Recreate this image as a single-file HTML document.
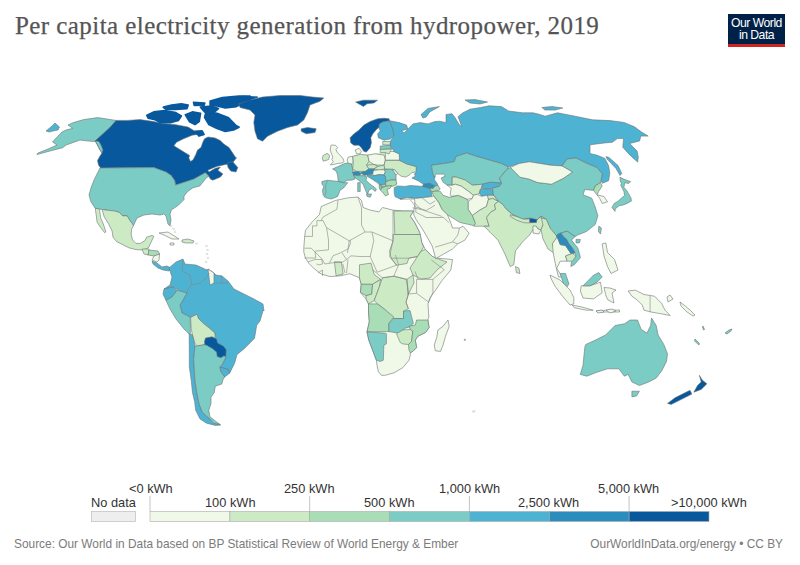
<!DOCTYPE html>
<html><head><meta charset="utf-8">
<style>
html,body{margin:0;padding:0;background:#fff;}
body{width:800px;height:565px;position:relative;overflow:hidden;font-family:"Liberation Sans",sans-serif;}
.title{position:absolute;left:15px;top:12px;font-family:"Liberation Serif",serif;font-size:25px;color:#555;white-space:nowrap;letter-spacing:0.43px;-webkit-text-stroke:0.25px #555;}
.logo{position:absolute;left:728px;top:14px;width:57px;height:33px;background:#002147;}
.logo .bar{position:absolute;left:0;bottom:0;width:57px;height:3px;background:#ce261e;}
.logo .t{position:absolute;left:0;top:3px;width:57px;text-align:center;color:#fff;font-size:12.2px;line-height:12px;letter-spacing:-0.5px;}
.lab{position:absolute;font-size:12.8px;color:#333;white-space:nowrap;}
.foot{position:absolute;top:537px;font-size:11.88px;color:#7b7b7b;white-space:nowrap;}
svg{position:absolute;left:0;top:0;}
</style></head><body>
<div class="title">Per capita electricity generation from hydropower, 2019</div>
<div class="logo"><div class="t">Our World<br>in Data</div><div class="bar"></div></div>
<svg width="800" height="565" style="position:absolute;left:0;top:0">
<g stroke="#6c7476" stroke-linejoin="round">
<path d="M73.3,122.6 L84.0,119.5 L97.8,117.6 L116.1,120.4 L110.0,127.4 L95.3,140.8 L98.0,143.5 L95.0,141.5 L88.0,141.0 L80.0,140.0 L72.7,142.7 L66.0,145.0 L62.7,147.7 L50.0,151.0 L36.9,154.6 L38.0,153.0 L48.0,149.0 L57.0,145.0 L52.6,142.0 L57.6,136.4 L62.0,132.0 L66.0,130.0 L72.7,128.3 L68.0,125.0Z" fill="#7bccc4" stroke-width="0.6"/>
<path d="M46.0,131.0 L52.0,126.0 L55.0,123.0 L59.5,127.0 L58.0,130.0 L53.0,131.0 L49.0,132.0Z" fill="#4eb3d3" stroke-width="0.6"/>
<path d="M116.1,120.4 L127.5,120.4 L140.0,119.6 L153.8,121.6 L162.5,123.6 L174.4,124.4 L188.1,127.1 L195.0,131.3 L197.5,134.4 L192.2,135.2 L183.5,138.8 L176.5,142.2 L173.9,145.8 L178.2,148.4 L185.2,152.8 L189.6,155.4 L188.8,158.0 L190.5,161.5 L193.1,159.8 L195.8,154.5 L197.5,150.1 L201.0,147.5 L202.8,142.2 L204.5,138.8 L208.0,137.0 L215.0,137.9 L220.2,140.5 L223.8,144.0 L229.0,147.5 L232.5,152.8 L236.0,158.0 L236.7,157.6 L231.7,163.9 L225.4,164.5 L216.6,166.4 L207.8,170.2 L209.0,172.0 L215.3,168.3 L220.4,167.0 L217.8,170.2 L222.9,173.9 L220.4,177.1 L212.8,180.2 L210.3,178.9 L209.0,176.4 L207.8,175.2 L205.3,172.7 L194.0,179.0 L183.5,182.5 L175.6,185.1 L174.8,180.8 L171.2,175.5 L166.0,172.0 L159.0,169.4 L153.8,167.6 L100.6,168.0 L98.5,165.0 L97.5,160.6 L100.0,156.0 L102.0,153.0 L99.5,149.0 L97.5,145.0 L95.3,140.8 L110.0,127.4Z" fill="#08589e" stroke-width="0.6"/>
<path d="M95.3,140.8 L99.0,141.5 L101.0,145.0 L103.0,150.0 L102.0,153.0 L99.5,149.0 L97.5,145.0Z" fill="#7bccc4" stroke-width="0.6"/>
<path d="M227.2,163.2 L232.5,161.5 L237.8,167.6 L236.0,172.0 L230.8,171.1 L228.1,167.6Z" fill="#08589e" stroke-width="0.6"/>
<path d="M206.0,112.0 L217.0,113.4 L228.0,117.5 L236.3,125.8 L239.0,127.1 L233.5,129.9 L225.3,131.3 L217.0,128.5 L208.8,124.4 L204.7,117.5Z" fill="#08589e" stroke-width="1.8" stroke="#08589e"/>
<path d="M185.4,114.8 L192.3,112.0 L200.5,113.4 L199.1,121.6 L195.0,124.4 L189.5,121.6Z" fill="#08589e" stroke-width="1.8" stroke="#08589e"/>
<path d="M195.0,131.5 L202.0,131.0 L204.0,134.5 L199.0,136.0Z" fill="#08589e" stroke-width="1.8" stroke="#08589e"/>
<path d="M146.9,115.4 L153.8,112.0 L164.8,110.6 L175.8,112.7 L181.3,116.1 L178.5,120.3 L170.3,122.6 L160.6,122.6 L155.1,119.6 L148.2,118.2Z" fill="#08589e" stroke-width="1.8" stroke="#08589e"/>
<path d="M163.4,107.2 L171.6,105.1 L181.3,103.8 L188.1,105.1 L186.8,108.6 L175.8,109.3 L166.1,109.3Z" fill="#08589e" stroke-width="1.8" stroke="#08589e"/>
<path d="M193.6,102.4 L204.7,103.1 L204.0,105.1 L194.3,105.4Z" fill="#08589e" stroke-width="1.8" stroke="#08589e"/>
<path d="M200.5,107.2 L211.5,106.2 L218.4,108.6 L214.3,112.0 L204.7,112.0Z" fill="#08589e" stroke-width="1.8" stroke="#08589e"/>
<path d="M210.2,101.0 L222.5,97.6 L239.0,96.2 L250.0,96.2 L250.0,100.3 L241.8,103.8 L236.3,106.5 L225.3,107.9 L217.0,105.8 L210.2,105.1Z" fill="#08589e" stroke-width="1.8" stroke="#08589e"/>
<path d="M238.8,103.8 L250.0,100.0 L262.5,97.0 L280.0,95.5 L300.0,95.5 L312.5,97.0 L323.8,98.0 L320.0,101.2 L310.0,105.0 L307.5,112.5 L303.8,120.0 L297.5,125.0 L287.5,127.5 L277.5,131.2 L267.5,136.2 L262.5,141.2 L257.5,138.8 L255.0,131.2 L253.8,122.5 L255.0,115.0 L250.0,110.0 L240.0,107.5Z" fill="#08589e" stroke-width="0.6"/>
<path d="M301.2,128.8 L307.5,127.5 L316.2,128.8 L315.0,132.5 L306.2,133.8 L301.2,131.2Z" fill="#08589e" stroke-width="0.6"/>
<path d="M102.5,168.0 L153.8,167.6 L159.0,169.4 L166.0,172.0 L171.2,175.5 L174.8,180.8 L175.6,185.1 L183.5,182.5 L194.0,179.0 L205.3,172.7 L207.8,175.2 L209.0,176.4 L206.6,177.5 L203.0,182.0 L199.8,186.0 L193.0,187.7 L187.4,191.7 L184.0,196.2 L184.0,199.6 L178.3,205.3 L171.5,209.8 L170.0,214.0 L171.0,220.0 L170.0,226.0 L168.0,224.0 L166.0,216.0 L164.0,214.0 L160.0,215.0 L152.0,214.0 L144.0,215.0 L137.0,218.0 L133.4,225.7 L129.8,220.4 L127.2,215.9 L122.7,215.9 L119.2,212.4 L114.8,211.1 L103.3,209.7 L95.3,208.4 L91.0,202.0 L89.0,195.0 L91.0,188.0 L94.0,180.0 L97.0,174.0 L100.0,168.0Z" fill="#7bccc4" stroke-width="0.6"/>
<path d="M102.4,209.5 L103.3,209.7 L114.8,211.1 L119.2,212.4 L122.7,215.9 L127.2,215.9 L129.8,220.4 L132.5,223.9 L133.4,225.7 L131.6,229.2 L131.2,234.5 L132.5,239.8 L136.0,243.4 L140.4,243.4 L144.9,240.7 L146.6,237.2 L152.0,235.4 L153.7,236.3 L151.0,242.5 L148.4,247.8 L143.1,250.0 L136.0,249.6 L128.9,247.8 L121.9,244.2 L116.5,241.6 L113.0,237.2 L112.1,231.0 L108.6,223.9 L104.2,216.8 L102.4,210.6Z" fill="#ccebc5" stroke-width="0.6"/>
<path d="M95.3,208.4 L99.0,208.8 L99.7,210.6 L100.6,217.7 L103.3,223.9 L105.0,229.2 L105.9,231.9 L104.6,232.7 L100.6,227.4 L97.1,222.1 L96.2,215.0 L95.5,210.6Z" fill="#ccebc5" stroke-width="0.6"/>
<path d="M142.0,249.0 L149.0,249.0 L149.0,250.0 L148.0,255.0 L144.0,254.0Z" fill="#ccebc5" stroke-width="0.6"/>
<path d="M149.0,250.0 L158.0,251.0 L159.6,254.0 L154.0,256.0 L148.0,255.0Z" fill="#a8ddb5" stroke-width="0.6"/>
<path d="M154.0,256.0 L159.6,254.0 L159.0,260.0 L157.0,262.0 L152.0,260.0Z" fill="#f0f9e8" stroke-width="0.6"/>
<path d="M152.0,261.0 L157.0,263.0 L162.0,267.0 L167.0,266.0 L171.0,268.0 L169.0,271.0 L163.0,270.0 L158.0,268.0 L153.0,264.0Z" fill="#4eb3d3" stroke-width="0.6"/>
<path d="M159.0,233.0 L168.0,232.0 L176.0,237.0 L179.0,239.0 L172.0,239.0 L164.0,235.0Z" fill="#f0f9e8" stroke-width="0.6"/>
<path d="M182.0,240.0 L188.0,239.0 L194.0,241.0 L193.0,243.0 L186.0,243.0 L182.0,242.0Z" fill="#ccebc5" stroke-width="0.6"/>
<path d="M170.0,243.0 L174.0,243.0 L174.0,245.0 L170.0,245.0Z" fill="#f0f9e8" stroke-width="0.6"/>
<path d="M205.7,245.4 L207.3,245.4 L207.3,246.6 L205.7,246.6Z" fill="#f0f9e8" stroke-width="0.3" stroke="#aab4b0"/>
<path d="M206.7,249.4 L208.3,249.4 L208.3,250.6 L206.7,250.6Z" fill="#f0f9e8" stroke-width="0.3" stroke="#aab4b0"/>
<path d="M206.2,253.4 L207.8,253.4 L207.8,254.6 L206.2,254.6Z" fill="#f0f9e8" stroke-width="0.3" stroke="#aab4b0"/>
<path d="M207.2,257.4 L208.8,257.4 L208.8,258.6 L207.2,258.6Z" fill="#f0f9e8" stroke-width="0.3" stroke="#aab4b0"/>
<path d="M205.2,261.4 L206.8,261.4 L206.8,262.6 L205.2,262.6Z" fill="#f0f9e8" stroke-width="0.3" stroke="#aab4b0"/>
<path d="M195.7,242.9 L197.3,242.9 L197.3,244.1 L195.7,244.1Z" fill="#f0f9e8" stroke-width="0.3" stroke="#aab4b0"/>
<path d="M170.2,225.4 L171.8,225.4 L171.8,226.6 L170.2,226.6Z" fill="#f0f9e8" stroke-width="0.3" stroke="#aab4b0"/>
<path d="M172.7,228.4 L174.3,228.4 L174.3,229.6 L172.7,229.6Z" fill="#f0f9e8" stroke-width="0.3" stroke="#aab4b0"/>
<path d="M174.2,231.4 L175.8,231.4 L175.8,232.6 L174.2,232.6Z" fill="#f0f9e8" stroke-width="0.3" stroke="#aab4b0"/>
<path d="M169.0,268.0 L176.0,262.0 L183.0,259.0 L185.0,264.0 L196.0,265.0 L207.0,270.0 L208.0,269.0 L214.0,273.0 L216.0,275.0 L222.0,276.0 L228.0,281.0 L234.0,289.0 L242.0,293.0 L254.0,299.0 L263.0,304.0 L264.0,311.0 L263.2,310.0 L260.0,321.0 L256.7,325.2 L254.5,338.3 L244.5,348.4 L237.0,354.6 L234.6,363.3 L229.6,373.2 L228.4,369.5 L219.7,367.0 L222.2,364.5 L225.9,357.1 L224.0,355.8 L224.7,350.9 L222.2,348.4 L216.0,344.7 L215.4,340.4 L215.4,336.6 L214.7,332.9 L209.8,328.6 L203.6,323.6 L198.6,318.7 L196.8,314.3 L190.6,317.4 L190.0,317.0 L182.0,313.0 L180.0,305.0 L187.0,293.0 L180.0,291.0 L173.0,287.0 L164.0,289.0 L170.0,285.0 L172.0,277.0Z" fill="#4eb3d3" stroke-width="0.6"/>
<path d="M208.0,269.0 L214.0,273.0 L214.0,283.0 L210.0,285.0 L209.0,277.0Z" fill="#f0f9e8" stroke-width="0.6"/>
<path d="M164.0,289.0 L173.0,287.0 L177.0,290.5 L172.0,297.0 L166.0,300.5 L163.0,294.0Z" fill="#4eb3d3" stroke-width="0.6"/>
<path d="M166.0,300.5 L172.0,297.0 L177.0,290.5 L180.0,291.0 L187.0,293.0 L180.0,305.0 L182.0,313.0 L190.0,317.0 L190.3,318.7 L190.3,334.0 L189.2,334.0 L184.0,329.0 L176.0,319.0 L170.0,309.0 L166.0,300.5Z" fill="#7bccc4" stroke-width="0.6"/>
<path d="M190.6,317.4 L196.8,314.3 L198.6,318.7 L203.6,323.6 L209.8,328.6 L214.7,332.9 L215.4,336.6 L212.3,338.3 L207.3,339.1 L206.1,341.6 L204.8,344.7 L197.4,345.9 L194.9,343.5 L192.4,334.8 L191.2,328.6Z" fill="#ccebc5" stroke-width="0.6"/>
<path d="M205.5,338.0 L212.0,336.8 L216.5,339.0 L217.5,343.0 L223.5,346.3 L226.2,349.8 L225.8,356.5 L221.5,359.0 L216.0,357.8 L214.8,353.8 L210.8,350.5 L205.0,347.3 L204.5,341.5Z" fill="#08589e" stroke-width="0.6"/>
<path d="M219.7,367.0 L228.4,369.5 L229.6,373.2 L224.7,376.9 L220.9,372.0Z" fill="#4eb3d3" stroke-width="0.6"/>
<path d="M189.2,334.0 L192.4,334.8 L194.9,345.9 L193.7,359.6 L194.9,380.0 L196.8,392.7 L199.0,403.6 L202.3,412.3 L209.9,418.9 L213.1,423.2 L219.7,424.3 L220.8,425.0 L215.3,425.4 L206.6,423.2 L200.0,418.9 L195.7,410.2 L194.6,401.4 L192.5,392.7 L191.4,381.8 L189.3,366.6 L189.3,353.5Z" fill="#4eb3d3" stroke-width="0.6"/>
<path d="M194.9,345.9 L197.4,345.9 L204.8,344.7 L206.7,345.3 L212.3,348.4 L216.6,352.1 L217.2,356.5 L220.9,357.7 L224.0,355.8 L225.9,357.1 L222.2,364.5 L219.7,367.0 L220.9,372.0 L224.7,376.9 L223.0,379.7 L221.8,384.0 L215.3,386.2 L214.2,392.7 L211.0,397.1 L211.0,403.6 L208.8,410.2 L209.9,416.7 L215.3,421.0 L219.7,424.3 L213.1,423.2 L209.9,418.9 L202.3,412.3 L199.0,403.6 L196.8,392.7 L194.9,380.0 L193.7,359.6Z" fill="#7bccc4" stroke-width="0.6"/>
<path d="M230.0,97.7 L243.8,96.3 L257.6,97.0 L248.0,100.4 L238.3,102.5 L230.0,103.9Z" fill="#08589e" stroke-width="1.0" stroke="#08589e"/>
<path d="M355.6,102.0 L363.5,100.2 L377.5,100.2 L374.0,102.9 L367.0,103.8 L363.5,106.4 L360.0,104.6Z" fill="#08589e" stroke-width="0.6"/>
<path d="M347.0,163.0 L355.0,155.0 L368.0,154.5 L385.0,152.0 L386.0,169.0 L396.0,176.0 L397.0,186.0 L388.0,187.0 L381.0,188.0 L376.0,183.0 L368.0,177.0 L355.0,176.0 L346.0,172.0Z" fill="#ccebc5" stroke-width="0.0" stroke="none"/>
<path d="M331.3,145.0 L335.5,145.3 L337.6,147.4 L336.0,149.6 L337.1,152.2 L340.3,155.4 L343.0,158.6 L344.0,161.2 L343.0,162.8 L338.2,163.4 L333.9,164.4 L330.2,165.0 L333.4,161.8 L331.8,159.6 L332.9,157.0 L331.3,153.3 L330.2,150.1 L330.7,146.4Z" fill="#f0f9e8" stroke-width="0.6"/>
<path d="M323.3,155.4 L327.0,153.3 L329.7,155.4 L328.6,159.6 L323.3,161.2 L322.2,158.0Z" fill="#ccebc5" stroke-width="0.6"/>
<path d="M332.6,168.9 L337.0,167.0 L341.4,165.1 L345.2,163.2 L348.3,163.2 L351.4,163.9 L352.7,168.9 L352.7,172.0 L354.0,175.8 L355.2,178.9 L351.4,180.2 L347.0,180.2 L343.9,182.7 L338.2,181.5 L337.6,175.2 L336.4,171.4Z" fill="#7bccc4" stroke-width="0.6"/>
<path d="M321.9,181.5 L327.6,180.2 L338.2,181.5 L343.9,182.7 L347.7,182.7 L343.9,187.7 L340.1,190.3 L337.6,196.5 L331.3,199.0 L325.7,197.8 L323.2,195.3 L322.5,190.3 L323.8,186.5 L321.9,184.0Z" fill="#7bccc4" stroke-width="0.6"/>
<path d="M348.3,157.0 L352.7,156.3 L353.3,162.0 L351.4,163.9 L348.3,163.2 L347.0,160.1Z" fill="#f0f9e8" stroke-width="0.6"/>
<path d="M355.2,150.0 L359.0,148.2 L361.5,151.3 L360.2,153.8 L356.5,153.8Z" fill="#f0f9e8" stroke-width="0.6"/>
<path d="M352.7,156.3 L360.2,154.4 L367.8,155.1 L369.0,161.4 L366.5,165.1 L369.0,168.9 L365.3,171.4 L356.5,171.4 L352.7,168.9 L353.3,162.0Z" fill="#ccebc5" stroke-width="0.6"/>
<path d="M367.8,155.1 L375.3,153.8 L384.1,155.1 L385.4,160.1 L384.1,165.1 L377.8,165.1 L374.0,164.5 L369.0,161.4Z" fill="#f0f9e8" stroke-width="0.6"/>
<path d="M366.5,165.1 L374.0,164.5 L377.8,166.4 L374.0,168.9 L369.0,168.9Z" fill="#ccebc5" stroke-width="0.6"/>
<path d="M374.0,168.9 L377.8,166.4 L384.1,165.1 L384.7,168.9 L379.1,170.2Z" fill="#ccebc5" stroke-width="0.6"/>
<path d="M352.7,172.0 L357.7,171.4 L361.5,173.3 L359.0,175.8 L354.0,175.8Z" fill="#2b8cbe" stroke-width="0.6"/>
<path d="M361.5,172.0 L365.3,171.4 L369.0,168.9 L374.0,168.9 L375.3,172.7 L371.5,174.5 L364.0,175.2 L361.5,173.3Z" fill="#2b8cbe" stroke-width="0.6"/>
<path d="M373.5,170.5 L378.8,169.8 L384.0,169.8 L385.5,171.2 L384.0,175.0 L379.5,174.6 L373.5,175.8 L372.8,173.5Z" fill="#f0f9e8" stroke-width="0.6"/>
<path d="M384.0,169.8 L390.0,169.0 L393.8,170.5 L396.0,175.0 L396.0,179.9 L390.0,180.2 L385.9,181.8 L385.5,177.2 L384.0,175.0 L385.5,171.2Z" fill="#7bccc4" stroke-width="0.6"/>
<path d="M367.5,175.0 L373.5,175.8 L379.5,174.6 L384.0,175.0 L385.5,177.2 L385.9,181.8 L385.5,184.0 L383.2,184.8 L381.0,184.8 L379.5,184.0 L376.5,181.8 L372.8,179.5 L369.0,177.2 L367.5,176.5Z" fill="#4eb3d3" stroke-width="0.6"/>
<path d="M385.9,181.8 L390.0,180.2 L396.0,179.9 L396.8,184.0 L393.0,186.2 L385.9,186.2 L385.5,184.0Z" fill="#a8ddb5" stroke-width="0.6"/>
<path d="M381.8,187.8 L385.9,186.2 L391.5,185.5 L390.0,188.5 L387.0,189.2 L388.5,194.5 L385.5,196.0 L382.5,192.2 L380.2,190.0Z" fill="#a8ddb5" stroke-width="0.6"/>
<path d="M379.5,184.0 L381.0,184.8 L381.8,188.5 L380.2,190.0 L379.1,187.0Z" fill="#7bccc4" stroke-width="0.6"/>
<path d="M381.0,184.8 L383.2,184.8 L385.5,184.0 L385.9,186.2 L381.8,187.0Z" fill="#a8ddb5" stroke-width="0.6"/>
<path d="M353.2,175.0 L358.0,175.6 L364.5,175.8 L366.8,177.2 L366.0,180.2 L369.8,184.0 L374.2,187.0 L376.5,189.2 L375.0,191.5 L372.0,188.5 L369.0,190.0 L367.5,194.5 L366.0,191.5 L363.0,184.0 L358.5,180.2 L355.5,178.0Z" fill="#7bccc4" stroke-width="0.6"/>
<path d="M366.5,194.0 L371.5,194.0 L370.3,197.2 L367.1,196.5Z" fill="#7bccc4" stroke-width="0.6"/>
<path d="M357.7,182.7 L360.2,182.7 L360.2,191.5 L357.7,191.5Z" fill="#7bccc4" stroke-width="0.6"/>
<path d="M394.2,187.7 L397.7,186.0 L404.8,186.4 L410.1,185.5 L417.2,186.0 L422.5,186.4 L427.8,187.7 L429.6,187.7 L431.3,192.2 L432.2,196.6 L424.2,197.5 L415.4,198.4 L406.5,197.5 L400.4,199.2 L395.0,196.6 L394.2,192.2Z" fill="#4eb3d3" stroke-width="0.6"/>
<path d="M385.3,160.3 L399.5,160.3 L406.5,163.8 L416.3,166.5 L416.3,171.8 L411.9,172.7 L410.1,174.5 L405.7,177.1 L401.2,176.2 L397.7,173.6 L395.0,170.0 L392.4,169.2 L384.7,168.9 L384.1,165.1Z" fill="#ccebc5" stroke-width="0.6"/>
<path d="M392.4,169.2 L395.0,170.0 L397.7,173.6 L396.0,175.0 L394.0,172.0Z" fill="#f0f9e8" stroke-width="0.6"/>
<path d="M385.4,152.6 L390.3,151.5 L394.0,151.5 L399.2,153.8 L401.7,160.1 L392.9,160.1 L385.4,160.1Z" fill="#f0f9e8" stroke-width="0.6"/>
<path d="M382.7,141.5 L390.3,141.5 L390.3,145.2 L382.7,144.6Z" fill="#ccebc5" stroke-width="0.6"/>
<path d="M380.2,146.1 L390.3,145.2 L391.5,149.0 L380.2,149.5Z" fill="#7bccc4" stroke-width="0.6"/>
<path d="M380.2,149.5 L391.5,149.0 L389.0,154.0 L385.4,152.6 L380.2,152.5Z" fill="#ccebc5" stroke-width="0.6"/>
<path d="M350.1,137.7 L353.8,133.9 L358.8,130.2 L363.9,125.1 L370.2,121.4 L377.7,118.8 L384.0,118.2 L389.0,118.8 L389.6,120.7 L382.7,122.0 L379.6,123.9 L378.9,127.6 L376.4,129.5 L372.7,133.9 L370.8,137.7 L371.4,142.7 L370.2,147.7 L366.4,152.1 L363.9,151.5 L361.4,147.7 L358.8,145.2 L353.8,145.2 L350.7,142.7Z" fill="#08589e" stroke-width="0.6"/>
<path d="M379.6,123.9 L382.7,122.0 L389.6,120.7 L390.3,122.6 L392.8,128.9 L394.0,135.2 L390.3,138.9 L384.0,140.2 L378.3,137.7 L377.7,133.9 L380.2,130.8 L378.9,127.6Z" fill="#4eb3d3" stroke-width="0.6"/>
<path d="M389.6,120.7 L399.0,122.6 L406.6,125.1 L407.8,128.9 L401.6,130.8 L404.0,133.0 L412.9,123.9 L420.4,122.6 L427.9,123.9 L435.0,121.5 L440.0,121.2 L446.0,122.7 L446.0,114.5 L452.0,113.7 L455.0,117.5 L459.5,125.0 L461.7,126.5 L458.0,116.7 L462.5,113.0 L470.0,109.2 L480.5,107.5 L489.2,105.8 L501.5,106.6 L508.5,111.0 L522.5,112.8 L533.0,112.8 L540.0,114.5 L545.2,116.2 L557.5,112.8 L575.0,116.2 L592.5,119.8 L610.0,120.6 L624.0,122.4 L634.5,126.8 L641.5,132.0 L648.2,136.1 L640.8,136.1 L639.6,141.0 L629.7,143.5 L632.1,146.0 L637.1,151.0 L638.3,157.2 L637.7,162.1 L632.1,157.2 L627.2,152.2 L622.8,147.3 L623.5,138.6 L617.3,138.6 L612.3,142.3 L604.9,142.9 L590.0,144.8 L590.0,153.5 L597.4,155.3 L604.9,158.4 L608.6,165.8 L609.8,173.3 L608.6,180.7 L602.4,183.2 L601.2,181.0 L602.2,173.8 L597.0,167.6 L586.5,163.2 L576.0,158.0 L567.2,158.9 L562.0,165.9 L550.5,165.2 L540.0,163.5 L529.5,161.8 L519.0,163.5 L508.5,167.0 L501.5,163.5 L489.2,160.0 L477.0,156.5 L466.5,153.0 L456.0,156.5 L454.2,161.8 L443.8,163.5 L431.5,165.2 L431.3,167.4 L433.1,172.7 L435.2,176.2 L434.4,179.8 L437.0,183.2 L438.0,185.5 L434.9,186.0 L429.6,183.3 L423.4,184.2 L418.1,180.7 L411.9,178.0 L415.4,176.2 L414.5,174.0 L416.3,171.8 L416.3,166.5 L406.5,163.8 L399.5,160.3 L399.2,153.8 L394.0,151.5 L390.3,145.2 L390.9,140.2 L394.0,135.2 L392.8,128.9 L390.3,122.6Z" fill="#4eb3d3" stroke-width="0.6"/>
<path d="M421.0,114.5 L428.0,108.4 L439.4,106.6 L429.8,111.9 L426.2,117.1 L422.8,118.0Z" fill="#4eb3d3" stroke-width="0.6"/>
<path d="M465.0,100.0 L475.0,99.6 L487.5,102.0 L480.0,104.0 L470.0,103.0Z" fill="#4eb3d3" stroke-width="0.6"/>
<path d="M541.8,107.5 L552.0,106.5 L562.8,108.0 L555.0,110.1 L545.0,110.0Z" fill="#4eb3d3" stroke-width="0.6"/>
<path d="M606.0,156.5 L609.0,157.5 L618.0,165.5 L621.8,173.5 L620.0,175.5 L616.0,168.5 L607.0,159.0Z" fill="#4eb3d3" stroke-width="0.6"/>
<path d="M423.4,184.2 L429.6,183.3 L434.9,186.0 L433.1,188.6 L427.8,187.7 L422.5,186.4Z" fill="#2b8cbe" stroke-width="0.6"/>
<path d="M427.8,187.7 L433.1,188.6 L434.9,186.0 L438.0,185.5 L440.2,189.0 L438.8,190.2 L431.8,192.0 L429.6,187.7Z" fill="#a8ddb5" stroke-width="0.6"/>
<path d="M335.2,200.5 L347.5,197.9 L358.0,197.0 L361.5,200.5 L363.2,207.5 L370.2,210.1 L379.0,211.9 L382.5,207.5 L393.0,210.1 L403.5,211.0 L413.5,211.0 L410.3,216.1 L414.9,223.0 L419.5,232.2 L421.8,242.5 L425.3,249.4 L432.2,256.3 L435.0,258.0 L441.0,258.5 L452.5,259.5 L450.8,270.0 L442.0,280.5 L435.0,291.0 L429.8,298.0 L428.0,303.9 L428.8,316.9 L427.9,320.0 L429.1,327.5 L425.4,332.6 L417.8,336.3 L415.3,340.1 L416.6,347.6 L412.8,351.4 L410.3,352.7 L410.3,355.2 L409.0,360.2 L402.8,367.7 L394.0,372.8 L385.2,375.3 L381.4,375.3 L378.3,371.5 L377.0,365.2 L376.4,360.2 L372.6,350.2 L368.8,340.1 L367.0,331.9 L369.3,321.8 L368.5,312.0 L368.5,303.9 L366.1,299.0 L360.4,292.5 L361.2,284.3 L359.5,277.8 L349.8,273.7 L340.5,275.8 L330.0,276.6 L321.2,274.0 L314.2,268.8 L309.0,263.5 L305.5,258.2 L303.8,252.1 L303.8,247.8 L304.6,237.2 L305.5,230.2 L312.5,221.5 L319.5,214.5 L321.2,206.6Z" fill="#f0f9e8" stroke-width="0.6"/>
<path d="M393.9,211.0 L413.5,211.0 L410.3,216.1 L414.9,223.0 L419.5,232.2 L420.2,234.5 L394.8,234.5Z" fill="#ccebc5" stroke-width="0.6"/>
<path d="M393.0,234.5 L420.2,234.5 L421.8,242.5 L423.5,247.0 L421.0,251.2 L417.5,256.5 L408.8,258.2 L407.0,263.5 L396.5,265.2 L391.2,258.2 L389.5,251.2 L393.0,240.8Z" fill="#ccebc5" stroke-width="0.6"/>
<path d="M417.5,256.5 L421.0,251.2 L425.3,249.4 L432.2,256.3 L441.0,260.0 L447.0,262.0 L438.0,269.0 L430.0,278.0 L421.0,279.0 L413.0,275.0 L410.0,268.0Z" fill="#ccebc5" stroke-width="0.6"/>
<path d="M334.4,261.8 L341.4,261.8 L343.1,274.0 L336.1,275.8Z" fill="#ccebc5" stroke-width="0.6"/>
<path d="M359.5,264.8 L371.0,263.1 L374.2,274.5 L380.7,279.4 L372.6,284.3 L361.2,284.3 L359.5,277.8Z" fill="#ccebc5" stroke-width="0.6"/>
<path d="M361.2,284.3 L372.6,284.3 L371.8,294.1 L366.1,295.7 L360.4,292.5Z" fill="#a8ddb5" stroke-width="0.6"/>
<path d="M372.6,284.3 L380.7,279.4 L379.1,287.6 L374.2,300.6 L368.5,303.9 L366.1,299.0 L366.1,295.7 L371.8,294.1Z" fill="#ccebc5" stroke-width="0.6"/>
<path d="M377.5,303.9 L374.2,300.6 L379.1,287.6 L382.4,277.8 L393.8,276.2 L406.8,279.4 L408.4,294.1 L406.0,302.2 L408.4,308.8 L403.5,311.2 L403.5,318.5 L393.8,318.5 L384.0,308.8Z" fill="#ccebc5" stroke-width="0.6"/>
<path d="M406.8,279.4 L413.0,275.0 L414.0,283.0 L408.4,294.1Z" fill="#ccebc5" stroke-width="0.6"/>
<path d="M368.5,303.9 L377.5,303.9 L384.0,308.8 L393.8,316.9 L388.9,323.4 L388.9,331.6 L367.0,331.9 L369.3,321.8 L368.5,312.0Z" fill="#a8ddb5" stroke-width="0.6"/>
<path d="M388.9,323.4 L393.8,318.5 L403.5,318.5 L403.5,311.2 L410.0,310.4 L413.3,323.4 L410.0,326.7 L405.2,328.3 L398.7,333.2 L388.9,331.6Z" fill="#7bccc4" stroke-width="0.6"/>
<path d="M367.0,331.9 L385.2,333.2 L386.4,333.8 L386.4,343.9 L383.9,345.1 L383.3,360.2 L380.2,361.5 L376.4,360.2 L372.6,350.2 L368.8,340.1Z" fill="#7bccc4" stroke-width="0.6"/>
<path d="M396.5,333.8 L402.8,330.0 L410.3,329.4 L412.8,331.3 L411.6,341.4 L408.4,344.5 L402.8,343.9 L400.3,342.6Z" fill="#ccebc5" stroke-width="0.6"/>
<path d="M416.6,320.0 L427.9,320.0 L429.1,327.5 L425.4,332.6 L417.8,336.3 L415.3,340.1 L416.6,347.6 L412.8,351.4 L410.3,352.7 L409.0,350.2 L408.4,344.5 L411.6,341.4 L412.8,331.3 L410.3,329.4 L409.0,326.3 L415.3,325.0Z" fill="#a8ddb5" stroke-width="0.6"/>
<path d="M448.0,320.0 L449.2,326.3 L445.5,336.3 L443.0,345.1 L440.5,351.4 L435.4,350.8 L434.2,345.1 L436.7,337.6 L437.9,330.0 L443.0,326.3Z" fill="#f0f9e8" stroke-width="0.6"/>
<path d="M400.4,199.2 L406.5,197.5 L415.4,198.4 L424.2,197.5 L432.2,196.6 L433.5,195.5 L438.8,202.5 L442.2,209.5 L447.2,214.0 L450.8,222.8 L452.5,228.0 L459.5,228.0 L463.0,226.2 L469.1,233.2 L464.8,240.2 L457.8,243.8 L452.5,249.0 L440.2,256.0 L435.6,258.6 L434.5,254.0 L432.2,246.0 L427.6,237.9 L423.0,229.9 L416.1,219.5 L413.8,214.9 L413.8,210.3 L415.0,204.0 L414.5,199.0Z" fill="#f0f9e8" stroke-width="0.6"/>
<path d="M431.8,192.0 L434.0,191.2 L440.1,191.2 L443.1,195.3 L449.2,197.3 L458.3,195.3 L467.3,199.3 L468.3,201.3 L468.3,209.4 L472.4,215.5 L475.5,223.5 L473.5,225.5 L460.0,222.5 L451.0,217.0 L447.0,214.5 L442.2,209.5 L438.8,202.5 L433.5,195.5Z" fill="#a8ddb5" stroke-width="0.6"/>
<path d="M431.5,165.2 L443.8,163.5 L454.2,161.8 L456.0,156.5 L466.5,153.0 L477.0,156.5 L489.2,160.0 L501.5,163.5 L508.5,167.0 L507.0,169.2 L499.6,178.1 L501.6,183.2 L490.5,182.2 L482.5,184.2 L472.4,185.2 L465.3,180.1 L456.2,177.1 L452.2,177.1 L452.2,185.2 L447.2,185.2 L443.1,182.2 L441.1,178.1 L445.1,176.1 L444.1,174.1 L436.0,174.1 L434.0,177.1 L432.6,172.8Z" fill="#7bccc4" stroke-width="0.6"/>
<path d="M452.2,177.1 L456.2,177.1 L465.3,180.1 L472.4,185.2 L482.5,184.2 L481.5,188.2 L480.5,189.2 L479.4,193.3 L477.4,194.3 L473.4,195.3 L468.3,191.2 L461.3,186.2 L455.2,184.2 L452.2,185.2Z" fill="#ccebc5" stroke-width="0.6"/>
<path d="M447.2,185.2 L452.2,185.2 L455.2,184.2 L461.3,186.2 L468.3,191.2 L473.4,195.3 L472.4,198.3 L467.3,199.3 L458.3,195.3 L451.2,196.3 L450.2,194.3 L451.2,188.2Z" fill="#f0f9e8" stroke-width="0.6"/>
<path d="M482.5,184.2 L490.5,182.2 L501.6,183.2 L499.6,186.2 L492.6,188.2 L486.5,189.2 L481.5,188.2Z" fill="#4eb3d3" stroke-width="0.6"/>
<path d="M480.5,189.2 L486.5,189.2 L492.6,189.2 L493.6,195.3 L487.5,195.3 L481.5,196.3 L479.4,193.3Z" fill="#4eb3d3" stroke-width="0.6"/>
<path d="M473.4,195.3 L477.4,194.3 L481.5,196.3 L487.5,195.3 L488.5,199.3 L486.5,206.4 L479.4,210.4 L472.4,215.5 L468.3,209.4 L468.3,201.3 L472.4,198.3Z" fill="#f0f9e8" stroke-width="0.6"/>
<path d="M486.5,206.4 L488.5,199.3 L492.6,198.3 L498.6,201.3 L494.6,204.4 L495.6,209.4 L490.5,212.4 L486.5,217.5 L489.2,226.2 L484.0,226.2 L473.5,226.2 L475.5,223.5 L472.4,215.5 L479.4,210.4Z" fill="#ccebc5" stroke-width="0.6"/>
<path d="M498.6,201.3 L502.7,204.4 L506.7,209.4 L512.0,214.0 L522.5,219.2 L530.0,218.0 L537.0,220.0 L541.0,216.0 L546.0,219.0 L543.0,225.0 L541.0,229.8 L538.0,229.0 L536.0,226.0 L533.0,229.8 L529.5,235.0 L522.5,242.0 L515.5,250.8 L513.8,264.8 L510.2,266.5 L505.0,254.2 L498.0,240.2 L491.0,233.2 L484.0,226.2 L489.2,226.2 L486.5,217.5 L490.5,212.4 L495.6,209.4 L494.6,204.4Z" fill="#ccebc5" stroke-width="0.6"/>
<path d="M533.0,226.0 L536.0,226.0 L538.0,229.0 L541.0,229.8 L539.0,234.0 L533.0,233.0Z" fill="#f0f9e8" stroke-width="0.6"/>
<path d="M515.5,266.5 L519.0,268.2 L519.9,273.5 L516.4,272.6Z" fill="#ccebc5" stroke-width="0.6"/>
<path d="M487.5,195.3 L493.6,195.3 L498.6,201.3 L492.6,198.3 L488.5,199.3Z" fill="#ccebc5" stroke-width="0.6"/>
<path d="M507.0,169.2 L510.5,167.5 L520.0,177.2 L528.8,179.0 L537.5,182.5 L551.5,184.2 L563.8,178.1 L572.5,172.0 L562.0,165.9 L567.2,158.9 L576.0,158.0 L586.5,163.2 L597.0,167.6 L602.2,173.8 L600.5,182.5 L595.2,186.0 L593.5,190.4 L584.8,189.5 L583.0,194.8 L591.8,198.2 L595.2,207.0 L597.9,215.8 L595.2,224.5 L586.5,231.5 L577.8,235.0 L575.1,236.5 L572.5,234.8 L567.2,231.2 L561.0,233.0 L558.3,233.9 L556.5,235.7 L550.4,228.6 L546.2,219.2 L541.0,216.0 L537.0,220.0 L530.0,218.0 L522.5,219.2 L512.0,214.0 L506.7,209.4 L502.7,204.4 L498.6,201.3 L493.6,195.3 L492.6,189.2 L492.6,188.2 L499.6,186.2 L501.6,183.2 L499.6,178.1Z" fill="#7bccc4" stroke-width="0.6"/>
<path d="M510.5,167.5 L519.0,163.5 L529.5,161.8 L540.0,163.5 L550.5,165.2 L562.0,165.9 L572.5,172.0 L563.8,178.1 L551.5,184.2 L537.5,182.5 L528.8,179.0 L520.0,177.2Z" fill="#f0f9e8" stroke-width="0.6"/>
<path d="M510.3,214.8 L516.5,216.5 L523.6,219.2 L529.5,219.0 L529.5,223.0 L523.6,222.7 L516.5,220.1 L510.3,216.5Z" fill="#ccebc5" stroke-width="0.6"/>
<path d="M529.8,218.3 L536.9,219.6 L536.5,222.5 L530.0,222.7Z" fill="#08589e" stroke-width="0.6"/>
<path d="M600.5,182.5 L602.2,186.0 L598.8,191.2 L597.0,194.8 L593.5,190.4 L595.2,186.0Z" fill="#a8ddb5" stroke-width="0.6"/>
<path d="M597.0,194.8 L604.0,196.5 L607.5,201.8 L602.2,203.5 L599.6,198.2Z" fill="#f0f9e8" stroke-width="0.6"/>
<path d="M576.0,239.4 L580.4,239.4 L579.5,242.9 L576.0,242.9Z" fill="#7bccc4" stroke-width="0.6"/>
<path d="M598.8,226.2 L601.4,228.0 L600.5,234.1 L598.4,231.5Z" fill="#7bccc4" stroke-width="0.6"/>
<path d="M619.9,177.2 L623.1,178.8 L627.1,180.4 L630.7,181.5 L628.7,183.5 L624.7,182.7 L623.9,187.5 L626.3,189.9 L628.7,193.9 L631.0,197.9 L631.4,201.1 L627.1,203.4 L623.1,205.0 L619.1,205.8 L615.1,209.0 L615.1,211.4 L611.9,207.4 L614.3,203.4 L618.3,201.1 L621.5,197.9 L624.7,195.5 L623.9,191.5 L622.3,188.3 L620.7,185.1 L621.5,183.5 L620.3,181.1Z" fill="#7bccc4" stroke-width="0.6"/>
<path d="M539.2,217.5 L546.2,219.2 L550.4,228.6 L556.5,235.7 L556.8,237.6 L552.4,243.8 L555.0,252.5 L556.8,259.5 L553.2,252.5 L548.0,249.0 L542.8,238.5 L541.0,229.8 L543.0,225.0 L541.0,216.0Z" fill="#ccebc5" stroke-width="0.6"/>
<path d="M556.5,235.7 L558.5,240.2 L560.2,244.6 L565.5,245.5 L570.8,253.4 L572.5,253.4 L565.5,256.0 L567.2,261.2 L560.2,261.2 L556.8,268.2 L562.0,277.0 L558.5,277.0 L555.9,266.5 L553.2,252.5 L552.4,243.8 L556.8,237.6Z" fill="#f0f9e8" stroke-width="0.6"/>
<path d="M556.5,235.7 L558.3,233.9 L561.0,233.0 L563.6,236.5 L566.7,239.2 L568.9,243.6 L572.5,248.0 L575.1,252.5 L574.2,253.5 L570.8,253.4 L565.5,245.5 L560.2,244.6 L558.5,240.2Z" fill="#2b8cbe" stroke-width="0.6"/>
<path d="M561.0,233.0 L567.2,231.2 L572.5,234.8 L575.1,236.5 L571.6,240.1 L574.2,243.6 L577.8,248.0 L579.6,254.2 L580.4,257.8 L574.2,264.8 L570.8,266.5 L571.6,261.2 L576.0,256.0 L575.1,252.5 L572.5,248.0 L568.9,243.6 L566.7,239.2 L563.6,236.5Z" fill="#7bccc4" stroke-width="0.6"/>
<path d="M565.5,256.0 L572.5,253.4 L576.0,256.0 L572.5,261.2 L567.2,261.2Z" fill="#ccebc5" stroke-width="0.6"/>
<path d="M560.2,273.5 L565.5,273.5 L569.0,284.0 L567.2,286.6 L562.9,282.2Z" fill="#7bccc4" stroke-width="0.6"/>
<path d="M550.0,275.0 L560.0,280.0 L570.0,290.0 L573.8,297.5 L573.8,303.8 L570.0,305.0 L562.5,296.2 L555.0,286.2 L551.2,278.8Z" fill="#f0f9e8" stroke-width="0.6"/>
<path d="M572.2,305.0 L581.0,306.8 L593.2,310.2 L586.2,310.2 L574.0,307.6Z" fill="#f0f9e8" stroke-width="0.6"/>
<path d="M596.8,310.5 L619.5,310.0 L619.5,312.0 L596.8,312.0Z" fill="#f0f9e8" stroke-width="0.6"/>
<path d="M581.2,285.8 L590.0,285.8 L600.5,282.2 L602.2,292.8 L593.5,298.9 L583.0,298.0 L580.4,291.0Z" fill="#f0f9e8" stroke-width="0.6"/>
<path d="M583.0,285.8 L593.5,275.2 L598.8,272.6 L602.2,277.0 L597.0,282.2 L590.0,285.8Z" fill="#7bccc4" stroke-width="0.6"/>
<path d="M604.0,287.5 L610.0,288.0 L616.0,290.0 L612.0,293.0 L614.0,303.0 L608.0,300.0 L606.0,296.0Z" fill="#f0f9e8" stroke-width="0.6"/>
<path d="M602.2,243.8 L605.8,242.9 L607.5,252.5 L614.5,259.5 L618.0,270.0 L611.0,273.5 L607.5,266.5 L604.0,256.0Z" fill="#f0f9e8" stroke-width="0.6"/>
<path d="M628.2,291.0 L635.2,290.1 L644.0,294.5 L654.5,296.2 L661.5,303.2 L665.0,310.2 L670.2,315.5 L661.5,313.8 L651.0,312.0 L644.0,310.2 L642.2,305.0 L637.0,299.8 L631.8,296.2Z" fill="#f0f9e8" stroke-width="0.6"/>
<path d="M667.0,297.0 L670.0,295.0 L673.0,299.0 L668.0,302.0Z" fill="#f0f9e8" stroke-width="0.6"/>
<path d="M680.0,302.0 L684.0,305.0 L690.0,310.0 L695.0,315.0 L693.0,316.0 L687.0,312.0 L681.0,306.0Z" fill="#f0f9e8" stroke-width="0.6"/>
<path d="M596.0,311.0 L602.0,310.0 L604.0,312.0 L598.0,313.0Z" fill="#f0f9e8" stroke-width="0.6"/>
<path d="M606.0,310.0 L612.0,309.0 L616.0,311.0 L610.0,313.0Z" fill="#f0f9e8" stroke-width="0.6"/>
<path d="M464.3,339.2 L465.4,339.2 L465.4,340.3 L464.3,340.3Z" fill="#f0f9e8" stroke-width="0.6"/>
<path d="M472.5,410.8 L475.0,410.6 L474.6,412.2 L472.8,412.3Z" fill="#eeeeee" stroke-width="0.4" stroke="#bbb"/>
<path d="M585.9,344.4 L594.4,340.6 L605.6,335.0 L615.0,325.6 L624.4,323.8 L630.0,320.0 L637.5,320.0 L641.2,329.4 L646.9,333.1 L650.6,325.6 L651.6,318.0 L656.2,325.6 L658.1,335.0 L663.8,344.4 L667.5,353.8 L666.6,361.2 L661.9,370.6 L656.2,378.1 L648.8,381.9 L639.4,385.6 L631.9,381.9 L628.1,374.4 L624.4,376.2 L618.8,368.8 L607.5,368.8 L596.2,372.5 L586.9,376.2 L580.3,374.4 L583.1,365.0 L584.1,353.8 L585.0,346.2Z" fill="#7bccc4" stroke-width="0.6"/>
<path d="M631.9,391.2 L639.4,391.2 L636.6,395.9 L631.9,396.9Z" fill="#7bccc4" stroke-width="0.6"/>
<path d="M699.4,375.3 L702.2,380.0 L706.9,383.8 L701.2,389.4 L693.8,392.2 L697.5,385.6 L701.2,381.9Z" fill="#08589e" stroke-width="0.6"/>
<path d="M690.0,390.3 L691.9,394.1 L682.5,398.8 L671.2,404.4 L667.5,403.4 L675.0,397.8 L684.4,393.1Z" fill="#08589e" stroke-width="0.6"/>
<path d="M695.0,339.0 L699.4,343.5 L699.0,345.0 L694.5,341.0Z" fill="#7bccc4" stroke-width="0.6"/>
<path d="M703.0,326.0 L704.5,329.5 L703.5,330.0 L702.5,327.0Z" fill="#7bccc4" stroke-width="0.6"/>
<path d="M725.0,333.0 L729.0,330.0 L732.0,329.0 L731.0,331.0 L727.0,334.0Z" fill="#7bccc4" stroke-width="0.6"/>
</g><g stroke="#858585" stroke-width="0.6" fill="none" stroke-linejoin="round">
<path d="M326.5,227.6 L328.5,240.0"/>
<path d="M360.0,256.5 L370.2,256.5"/>
<path d="M304.5,248.2 L311.2,248.2 L315.0,252.0 L315.8,258.0"/>
<path d="M328.5,240.0 L328.5,249.8 L315.0,251.2"/>
<path d="M304.5,258.0 L315.8,258.0"/>
<path d="M308.2,261.8 L315.0,259.5 L321.8,259.5 L322.5,264.0 L318.8,264.8 L316.5,264.0"/>
<path d="M315.0,252.0 L321.8,258.8 L324.8,264.0 L329.3,263.3 L333.0,255.8 L340.5,252.8 L348.0,249.0 L350.3,243.8 L350.3,240.0"/>
<path d="M329.3,263.3 L334.5,262.5 L342.0,262.5 L346.5,259.5 L342.0,252.8"/>
<path d="M346.5,259.5 L351.0,255.8 L360.0,256.5"/>
<path d="M348.0,259.5 L346.5,273.0"/>
<path d="M342.8,264.0 L345.0,273.0"/>
<path d="M318.0,273.0 L322.5,270.0 L322.5,276.0"/>
<path d="M183.0,260.0 L182.0,271.0 L190.0,275.0 L192.0,285.0"/>
<path d="M192.0,285.0 L200.0,283.0 L207.0,277.0 L209.0,273.0"/>
<path d="M192.0,285.0 L188.0,289.0 L187.0,293.0"/>
<path d="M164.0,289.0 L173.0,287.0"/>
<path d="M221.0,275.0 L222.0,283.0"/>
<path d="M214.0,283.0 L228.0,283.0"/>
<path d="M421.2,197.2 L430.0,204.2 L435.2,200.8"/>
<path d="M414.2,202.5 L421.2,209.5 L442.2,216.5"/>
<path d="M412.5,207.8 L421.2,209.5"/>
<path d="M327.6,180.5 L325.5,186.0 L326.0,192.0 L324.5,197.5"/>
<path d="M650.1,295.4 L650.1,312.0"/>
<path d="M337.9,200.5 L337.0,209.2 L323.0,217.1 L321.2,220.6"/>
<path d="M304.6,236.4 L312.5,236.4 L312.5,225.9 L316.9,225.9 L316.9,220.6 L323.0,220.6"/>
<path d="M323.0,220.6 L326.5,227.6 L349.2,240.8 L365.0,232.0 L361.5,225.0 L361.5,207.5 L358.0,197.0"/>
<path d="M349.2,240.8 L347.5,253.0"/>
<path d="M365.0,232.0 L372.0,232.0 L393.0,240.8 L393.0,210.1"/>
<path d="M372.0,232.0 L373.8,240.8 L370.2,256.5"/>
<path d="M393.0,240.8 L389.5,256.5 L396.5,265.2"/>
<path d="M370.2,256.5 L377.2,272.2 L396.5,265.2"/>
<path d="M391.2,258.2 L408.8,258.2 L417.5,256.5"/>
<path d="M372.6,269.7 L382.4,277.8 L393.8,276.2 L406.8,279.4"/>
<path d="M393.8,276.2 L398.6,264.8 L395.4,255.0"/>
<path d="M406.8,279.4 L408.4,294.1 L406.0,302.2 L408.4,308.8"/>
<path d="M416.6,293.3 L428.8,302.2"/>
<path d="M416.6,279.4 L416.6,293.3 L406.8,294.1"/>
<path d="M416.6,279.4 L432.9,279.4 L444.3,269.7"/>
<path d="M414.9,271.3 L418.2,279.4"/>
<path d="M431.2,259.9 L444.3,269.7"/>
<path d="M432.9,279.4 L432.9,292.5 L428.8,302.2"/>
<path d="M435.0,247.2 L452.5,242.0 L457.8,243.8"/>
<path d="M452.5,242.0 L457.8,235.0 L459.5,228.0"/>
<path d="M415.8,212.2 L426.2,217.5 L443.8,217.5 L449.0,222.8"/>
<path d="M415.8,207.0 L426.2,210.5 L435.0,205.2"/>
<path d="M410.5,200.0 L415.8,207.0 L415.8,212.2"/>
</g></svg><svg width="800" height="565" style="position:absolute;left:0;top:0">
<rect x="91.5" y="511.5" width="44" height="10" fill="#eee" stroke="#c4c4c4" stroke-width="0.8"/>
<g stroke="#aaa" stroke-width="0.6">
<rect x="150" y="511.5" width="79.9" height="10" fill="#f0f9e8"/>
<rect x="229.9" y="511.5" width="79.9" height="10" fill="#ccebc5"/>
<rect x="309.7" y="511.5" width="79.9" height="10" fill="#a8ddb5"/>
<rect x="389.6" y="511.5" width="79.9" height="10" fill="#7bccc4"/>
<rect x="469.4" y="511.5" width="79.9" height="10" fill="#4eb3d3"/>
<rect x="549.3" y="511.5" width="79.9" height="10" fill="#2b8cbe"/>
<rect x="629.1" y="511.5" width="79.9" height="10" fill="#08589e"/>
</g>
<g stroke="#b5b5b5" stroke-width="0.8">
<line x1="150" y1="496" x2="150" y2="511"/>
<line x1="309.7" y1="496" x2="309.7" y2="511"/>
<line x1="469.4" y1="496" x2="469.4" y2="511"/>
<line x1="629.1" y1="496" x2="629.1" y2="511"/>
</g>
</svg>
<div class="lab" style="left:129px;top:481px">&lt;0 kWh</div>
<div class="lab" style="left:91px;top:495px">No data</div>
<div class="lab" style="left:205px;top:495px">100 kWh</div>
<div class="lab" style="left:284px;top:481px">250 kWh</div>
<div class="lab" style="left:364px;top:495px">500 kWh</div>
<div class="lab" style="left:439px;top:481px">1,000 kWh</div>
<div class="lab" style="left:518px;top:495px">2,500 kWh</div>
<div class="lab" style="left:598px;top:481px">5,000 kWh</div>
<div class="lab" style="left:671px;top:495px">&gt;10,000 kWh</div>
<div class="foot" style="left:14px">Source: Our World in Data based on BP Statistical Review of World Energy &amp; Ember</div>
<div class="foot" style="right:17px">OurWorldInData.org/energy • CC BY</div>
</body></html>
